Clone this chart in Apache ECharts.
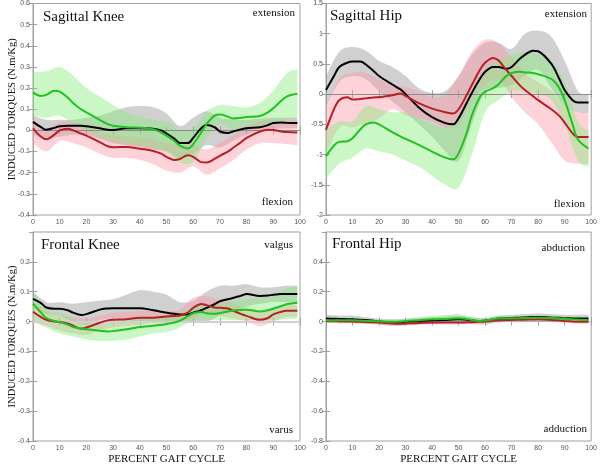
<!DOCTYPE html>
<html>
<head>
<meta charset="utf-8">
<title>Induced torques</title>
<script src="https://cdn.jsdelivr.net/npm/echarts@6/dist/echarts.min.js"></script>
<style>
    html, body { margin: 0; padding: 0; background: #fff; }
    #chart { width: 600px; height: 466px; }
</style>
</head>
<body>
<div id="chart"></div>
<script>
// gait cycle positions (%) for the mean curves and for the +/- SD bands
var lineX = [0, 3, 5, 8, 10, 13, 15, 18, 20, 25, 28, 30, 35, 40, 45, 48, 50, 53, 55, 58, 60, 63, 65, 68, 70, 73, 75, 78, 80, 85, 88, 90, 93, 95, 99];
var bandX = [0, 5, 10, 15, 20, 25, 30, 35, 40, 45, 50, 55, 60, 65, 70, 75, 80, 85, 90, 95, 99];

var xTicks = { min: 0, max: 100, interval: 10 };

/* Sagittal Knee */
var sagKneeBlack = [0.04, 0.015, 0.003, 0.012, 0.02, 0.022, 0.022, 0.022, 0.02, 0.01, 0.003, 0.002, 0.01, 0.01, 0.008, 0.0, -0.015, -0.04, -0.06, -0.06, -0.035, 0.01, 0.025, 0.015, -0.005, -0.012, -0.005, 0.005, 0.01, 0.015, 0.025, 0.035, 0.037, 0.036, 0.035];
var sagKneeRed = [0.01, -0.03, -0.042, -0.02, 0.0, 0.008, 0.0, -0.015, -0.025, -0.055, -0.075, -0.08, -0.078, -0.087, -0.097, -0.11, -0.125, -0.14, -0.135, -0.118, -0.125, -0.15, -0.152, -0.135, -0.12, -0.1, -0.082, -0.055, -0.035, -0.005, 0.003, 0.002, -0.005, -0.008, -0.01];
var sagKneeGreen = [0.18, 0.163, 0.168, 0.188, 0.183, 0.155, 0.13, 0.1, 0.085, 0.05, 0.03, 0.022, 0.015, 0.013, 0.005, -0.01, -0.025, -0.05, -0.072, -0.085, -0.065, -0.01, 0.03, 0.07, 0.075, 0.065, 0.056, 0.06, 0.063, 0.068, 0.085, 0.105, 0.14, 0.16, 0.173];
var sagKneeGrayUp = [0.07, 0.05, 0.05, 0.05, 0.06, 0.07, 0.09, 0.11, 0.115, 0.11, 0.08, 0.02, 0.06, 0.09, 0.06, 0.05, 0.05, 0.055, 0.06, 0.06, 0.06];
var sagKneeGrayLo = [-0.02, -0.04, -0.03, -0.02, -0.02, -0.04, -0.06, -0.07, -0.08, -0.09, -0.1, -0.13, -0.11, -0.07, -0.08, -0.05, -0.02, 0.0, 0.01, 0.01, 0.01];
var sagKneePinkUp = [0.05, 0.01, 0.04, 0.04, 0.02, -0.01, -0.02, -0.03, -0.03, -0.04, -0.06, -0.07, -0.07, -0.09, -0.06, -0.02, 0.02, 0.045, 0.05, 0.05, 0.05];
var sagKneePinkLo = [-0.06, -0.1, -0.05, -0.06, -0.08, -0.11, -0.13, -0.13, -0.14, -0.16, -0.19, -0.2, -0.17, -0.21, -0.18, -0.14, -0.09, -0.06, -0.06, -0.065, -0.07];
var sagKneeLimeUp = [0.275, 0.28, 0.3, 0.26, 0.2, 0.16, 0.12, 0.085, 0.065, 0.05, 0.04, 0.0, 0.01, 0.09, 0.12, 0.115, 0.11, 0.13, 0.19, 0.27, 0.29];
var sagKneeLimeLo = [0.07, 0.06, 0.07, 0.03, 0.0, -0.03, -0.05, -0.06, -0.07, -0.08, -0.1, -0.15, -0.15, -0.04, 0.03, 0.0, 0.02, 0.02, 0.03, 0.05, 0.06];

/* Sagittal Hip */
var sagHipBlack = [0.07, 0.3, 0.45, 0.52, 0.54, 0.54, 0.49, 0.38, 0.3, 0.16, 0.08, 0.0, -0.22, -0.38, -0.48, -0.5, -0.4, -0.15, 0.02, 0.25, 0.37, 0.45, 0.45, 0.42, 0.45, 0.58, 0.65, 0.72, 0.71, 0.5, 0.25, 0.07, -0.1, -0.14, -0.14];
var sagHipRed = [-0.59, -0.25, -0.1, -0.05, -0.09, -0.08, -0.07, -0.055, -0.05, -0.02, 0.01, -0.03, -0.15, -0.24, -0.3, -0.32, -0.25, -0.02, 0.15, 0.4, 0.52, 0.6, 0.56, 0.4, 0.3, 0.15, 0.07, -0.03, -0.1, -0.25, -0.36, -0.47, -0.65, -0.71, -0.71];
var sagHipGreen = [-1.03, -0.85, -0.79, -0.78, -0.73, -0.58, -0.5, -0.47, -0.5, -0.63, -0.7, -0.74, -0.84, -0.95, -1.05, -1.08, -0.98, -0.65, -0.35, -0.05, 0.04, 0.1, 0.16, 0.3, 0.35, 0.37, 0.36, 0.35, 0.33, 0.25, 0.1, -0.1, -0.5, -0.75, -0.9];
var sagHipGrayUp = [0.3, 0.7, 0.78, 0.72, 0.55, 0.45, 0.3, 0.1, 0.02, 0.05, 0.3, 0.65, 0.85, 0.85, 0.75, 1.0, 1.05, 0.95, 0.55, 0.05, 0.0];
var sagHipGrayLo = [-0.2, 0.2, 0.3, 0.25, 0.05, -0.12, -0.3, -0.5, -0.7, -0.95, -1.1, -0.5, 0.05, 0.1, 0.15, 0.3, 0.4, 0.1, -0.2, -0.3, -0.3];
var sagHipPinkUp = [-0.2, 0.25, 0.35, 0.35, 0.25, 0.15, 0.12, 0.05, -0.05, 0.0, 0.3, 0.7, 0.9, 0.85, 0.6, 0.35, 0.2, 0.05, -0.2, -0.3, -0.28];
var sagHipPinkLo = [-1.0, -0.55, -0.55, -0.48, -0.4, -0.25, -0.35, -0.4, -0.45, -0.55, -0.5, -0.1, 0.15, 0.25, -0.05, -0.3, -0.5, -0.8, -1.1, -1.15, -1.15];
var sagHipLimeUp = [-0.6, -0.45, -0.45, -0.2, -0.25, -0.3, -0.3, -0.4, -0.5, -0.55, -0.4, 0.0, 0.4, 0.55, 0.65, 0.7, 0.65, 0.55, 0.2, -0.45, -0.6];
var sagHipLimeLo = [-1.4, -1.15, -1.05, -0.9, -0.95, -1.0, -1.1, -1.2, -1.35, -1.5, -1.55, -1.0, -0.3, -0.1, 0.05, 0.05, 0.0, -0.1, -0.5, -1.1, -1.2];

/* Frontal Knee */
var froKneeBlack = [0.076, 0.062, 0.047, 0.043, 0.043, 0.038, 0.03, 0.022, 0.025, 0.04, 0.044, 0.045, 0.045, 0.045, 0.038, 0.033, 0.03, 0.026, 0.024, 0.024, 0.03, 0.038, 0.046, 0.058, 0.068, 0.075, 0.079, 0.087, 0.092, 0.086, 0.087, 0.09, 0.092, 0.092, 0.092];
var froKneeRed = [0.033, 0.015, 0.006, 0.0, -0.001, -0.006, -0.014, -0.024, -0.02, -0.004, 0.004, 0.006, 0.008, 0.013, 0.013, 0.015, 0.017, 0.019, 0.02, 0.03, 0.046, 0.059, 0.055, 0.047, 0.046, 0.044, 0.036, 0.025, 0.019, 0.006, 0.012, 0.024, 0.033, 0.036, 0.036];
var froKneeGreen = [0.06, 0.03, 0.012, 0.002, -0.002, -0.01, -0.018, -0.023, -0.026, -0.031, -0.033, -0.032, -0.026, -0.018, -0.014, -0.011, -0.008, -0.003, 0.003, 0.018, 0.028, 0.032, 0.028, 0.026, 0.029, 0.034, 0.037, 0.039, 0.04, 0.034, 0.038, 0.043, 0.052, 0.058, 0.063];
var froKneeGrayUp = [0.1, 0.065, 0.065, 0.06, 0.065, 0.07, 0.075, 0.09, 0.105, 0.1, 0.09, 0.065, 0.07, 0.1, 0.12, 0.12, 0.125, 0.115, 0.115, 0.12, 0.12];
var froKneeGrayLo = [0.045, 0.025, 0.02, 0.0, -0.01, 0.005, 0.01, 0.005, 0.0, 0.0, 0.0, 0.0, 0.0, 0.0, 0.02, 0.035, 0.05, 0.06, 0.065, 0.065, 0.065];
var froKneePinkUp = [0.06, 0.03, 0.02, 0.015, 0.01, 0.02, 0.03, 0.033, 0.035, 0.035, 0.035, 0.04, 0.08, 0.085, 0.07, 0.06, 0.045, 0.03, 0.05, 0.055, 0.055];
var froKneePinkLo = [0.0, -0.015, -0.03, -0.04, -0.045, -0.03, -0.02, -0.015, -0.01, -0.005, 0.0, 0.0, 0.01, 0.03, 0.02, 0.01, 0.0, -0.015, 0.0, 0.015, 0.015];
var froKneeLimeUp = [0.1, 0.04, 0.03, 0.01, 0.0, 0.0, 0.005, 0.008, 0.01, 0.015, 0.02, 0.03, 0.05, 0.055, 0.06, 0.07, 0.075, 0.08, 0.09, 0.11, 0.12];
var froKneeLimeLo = [0.0, -0.02, -0.04, -0.05, -0.06, -0.065, -0.065, -0.06, -0.05, -0.04, -0.035, -0.02, 0.005, 0.005, 0.005, 0.005, 0.005, 0.005, 0.005, 0.008, 0.01];

/* Frontal Hip */
var froHipBlack = [0.02, 0.019, 0.018, 0.016, 0.015, 0.013, 0.01, 0.005, 0.0, -0.006, -0.005, -0.002, 0.003, 0.007, 0.011, 0.014, 0.015, 0.012, 0.009, 0.003, 0.006, 0.014, 0.02, 0.023, 0.024, 0.026, 0.028, 0.03, 0.031, 0.027, 0.025, 0.023, 0.021, 0.02, 0.02];
var froHipRed = [0.002, 0.002, 0.001, 0.0, 0.0, -0.002, -0.003, -0.005, -0.007, -0.013, -0.015, -0.013, -0.009, -0.007, -0.007, -0.007, -0.007, -0.005, -0.004, -0.002, 0.0, 0.005, 0.007, 0.01, 0.011, 0.012, 0.013, 0.014, 0.015, 0.011, 0.007, 0.004, 0.0, -0.002, -0.002];
var froHipGreen = [0.007, 0.008, 0.009, 0.009, 0.009, 0.007, 0.005, 0.003, 0.002, -0.002, 0.0, 0.004, 0.009, 0.015, 0.018, 0.021, 0.022, 0.017, 0.011, 0.004, 0.007, 0.015, 0.022, 0.022, 0.022, 0.023, 0.024, 0.025, 0.026, 0.024, 0.022, 0.02, 0.016, 0.014, 0.011];
var froHipGrayUp = [0.045, 0.04, 0.04, 0.03, 0.02, 0.015, 0.02, 0.025, 0.03, 0.035, 0.04, 0.03, 0.025, 0.04, 0.045, 0.05, 0.055, 0.05, 0.045, 0.045, 0.045];
var froHipGrayLo = [-0.005, -0.005, -0.01, -0.015, -0.02, -0.03, -0.025, -0.02, -0.015, -0.01, -0.01, -0.015, -0.02, -0.005, 0.0, 0.005, 0.005, 0.0, 0.0, -0.005, -0.005];
var froHipPinkUp = [0.014, 0.013, 0.012, 0.009, 0.005, -0.001, -0.001, 0.003, 0.005, 0.005, 0.005, 0.008, 0.012, 0.019, 0.023, 0.025, 0.027, 0.023, 0.016, 0.01, 0.01];
var froHipPinkLo = [-0.01, -0.011, -0.012, -0.015, -0.019, -0.025, -0.025, -0.021, -0.019, -0.019, -0.019, -0.016, -0.012, -0.005, -0.001, 0.001, 0.003, -0.001, -0.008, -0.014, -0.014];
var froHipLimeUp = [0.02, 0.02, 0.02, 0.017, 0.014, 0.012, 0.018, 0.028, 0.038, 0.045, 0.05, 0.03, 0.018, 0.035, 0.035, 0.037, 0.038, 0.036, 0.032, 0.026, 0.022];
var froHipLimeLo = [-0.005, -0.003, -0.003, -0.007, -0.01, -0.014, -0.008, -0.003, 0.0, 0.002, 0.002, -0.002, -0.005, 0.008, 0.009, 0.01, 0.012, 0.01, 0.007, 0.002, 0.0];

var serif = "'Liberation Serif', 'Times New Roman', serif";
var sans = "'Liberation Sans', Arial, sans-serif";

var colBlack = '#000000', colRed = '#b52025', colGreen = '#1fc21f';
var bandGray = 'rgba(150,150,150,0.45)', bandPink = 'rgba(250,150,165,0.42)', bandLime = 'rgba(130,235,120,0.42)';

var zip = function(xs, ys) {
    return xs.map((x, i) => [x, ys[i]]);
};

// catmull-rom through pixel points, so the band edges look like the smoothed curves
var spline = function(pts, steps) {
    var out = [];
    for (var i = 0; i < pts.length - 1; i++) {
        var p0 = pts[Math.max(i - 1, 0)], p1 = pts[i], p2 = pts[i + 1], p3 = pts[Math.min(i + 2, pts.length - 1)];
        for (var s = 0; s < steps; s++) {
            var t = s / steps, t2 = t * t, t3 = t2 * t;
            out.push([0, 1].map(k => 0.5 * ((2 * p1[k]) + (-p0[k] + p2[k]) * t +
                (2 * p0[k] - 5 * p1[k] + 4 * p2[k] - p3[k]) * t2 +
                (-p0[k] + 3 * p1[k] - 3 * p2[k] + p3[k]) * t3)));
        }
    }
    out.push(pts[pts.length - 1]);
    return out;
};

// SD band: one polygon built from the lower / upper arrays through the axis scales
var band = function(gi, lo, up, color) {
    return {
        type: 'custom', xAxisIndex: gi, yAxisIndex: gi, silent: true, z: 1,
        data: bandX.map((x, i) => [x, lo[i], up[i]]),
        encode: { x: 0, y: [1, 2] },
        renderItem: function(params, api) {
            if (params.dataIndex !== 0) return;
            var n = bandX.length, top = [], bottom = [];
            for (var i = 0; i < n; i++) {
                var x = api.value(0, i);
                top.push(api.coord([x, api.value(2, i)]));
                bottom.push(api.coord([x, api.value(1, i)]));
            }
            var poly = spline(top, 8).concat(spline(bottom, 8).reverse());
            return {
                type: 'polygon',
                shape: { points: poly },
                style: { fill: color }
            };
        }
    };
};

var curve = function(gi, ys, color, zero) {
    var s = {
        type: 'line', xAxisIndex: gi, yAxisIndex: gi, data: zip(lineX, ys),
        smooth: 0.35, symbol: 'none', silent: true, z: 3,
        lineStyle: { color: color, width: 2 }
    };
    if (zero) {
        s.markLine = {
            silent: true, symbol: 'none', label: { show: false }, z: 2,
            lineStyle: zero, data: [{ yAxis: 0 }]
        };
    }
    return s;
};

var panels = [
    { left: 33, top: 3, h: 212, min: -0.4, max: 0.6, step: 0.1, yName: true, xName: false, hideTop: false,
      black: sagKneeBlack, red: sagKneeRed, green: sagKneeGreen,
      gray: [sagKneeGrayLo, sagKneeGrayUp], pink: [sagKneePinkLo, sagKneePinkUp], lime: [sagKneeLimeLo, sagKneeLimeUp],
      zero: { color: '#8c8c8c', width: 1, type: 'solid' } },
    { left: 326, top: 3, h: 212, min: -2, max: 1.5, step: 0.5, yName: false, xName: false, hideTop: false,
      black: sagHipBlack, red: sagHipRed, green: sagHipGreen,
      gray: [sagHipGrayLo, sagHipGrayUp], pink: [sagHipPinkLo, sagHipPinkUp], lime: [sagHipLimeLo, sagHipLimeUp],
      zero: { color: '#8c8c8c', width: 1, type: 'solid' } },
    { left: 33, top: 232, h: 211, min: -0.4, max: 0.3, step: 0.1, yName: true, xName: true, hideTop: true,
      black: froKneeBlack, red: froKneeRed, green: froKneeGreen,
      gray: [froKneeGrayLo, froKneeGrayUp], pink: [froKneePinkLo, froKneePinkUp], lime: [froKneeLimeLo, froKneeLimeUp],
      zero: { color: '#d0d0d0', width: 2, type: 'solid' } },
    { left: 326, top: 232, h: 211, min: -0.8, max: 0.6, step: 0.2, yName: false, xName: true, hideTop: true,
      black: froHipBlack, red: froHipRed, green: froHipGreen,
      gray: [froHipGrayLo, froHipGrayUp], pink: [froHipPinkLo, froHipPinkUp], lime: [froHipLimeLo, froHipLimeUp],
      zero: { color: '#b0b0b0', width: 1, type: 'solid' } }
];

var axisGray = '#a0a0a0';
var grids = [], xAxes = [], yAxes = [], series = [];

panels.forEach((p, gi) => {
    grids.push({ left: p.left, top: p.top, width: 267, height: p.h, show: true, borderColor: axisGray, borderWidth: 1 });

    xAxes.push({
        type: 'value', gridIndex: gi, min: xTicks.min, max: xTicks.max, interval: xTicks.interval,
        position: 'bottom',
        axisLine: { lineStyle: { color: axisGray } },
        axisTick: { inside: true, length: 4, lineStyle: { color: axisGray } },
        axisLabel: { fontSize: 7, color: '#555', margin: 4, fontFamily: sans },
        splitLine: { show: false },
        name: p.xName ? 'PERCENT GAIT CYCLE' : '', nameLocation: 'middle', nameGap: 13,
        nameTextStyle: { fontFamily: serif, fontSize: 11, color: '#111' }
    });
    yAxes.push({
        type: 'value', gridIndex: gi, min: p.min, max: p.max, interval: p.step,
        position: 'left',
        axisLine: { lineStyle: { color: axisGray } },
        axisTick: { inside: true, length: 4, lineStyle: { color: axisGray } },
        axisLabel: { fontSize: 7, color: '#555', margin: 3, fontFamily: sans, showMaxLabel: !p.hideTop },
        splitLine: { show: false },
        name: p.yName ? 'INDUCED TORQUES (N.m/Kg)' : '', nameLocation: 'middle', nameGap: 15, nameRotate: 90,
        nameMoveOverlap: false,
        nameTextStyle: { fontFamily: serif, fontSize: 10.5, color: '#111' }
    });

    series.push(band(gi, p.gray[0], p.gray[1], bandGray));
    series.push(band(gi, p.pink[0], p.pink[1], bandPink));
    series.push(band(gi, p.lime[0], p.lime[1], bandLime));
    series.push(curve(gi, p.black, colBlack, p.zero));
    series.push(curve(gi, p.red, colRed));
    series.push(curve(gi, p.green, colGreen));
});

// mirrored ticks on the top and right borders (box style)
panels.forEach((p, gi) => {
    xAxes.push({
        type: 'value', gridIndex: gi, min: xTicks.min, max: xTicks.max, interval: xTicks.interval,
        position: 'top', axisLine: { show: false },
        axisTick: { inside: true, length: 4, lineStyle: { color: axisGray } },
        axisLabel: { show: false }, splitLine: { show: false }
    });
    yAxes.push({
        type: 'value', gridIndex: gi, min: p.min, max: p.max, interval: p.step,
        position: 'right', axisLine: { show: false },
        axisTick: { inside: true, length: 4, lineStyle: { color: axisGray } },
        axisLabel: { show: false }, splitLine: { show: false }
    });
});

var big = { fontFamily: serif, fontSize: 15, fontWeight: 'normal', color: '#111' };
var small = { fontFamily: serif, fontSize: 11, fontWeight: 'normal', color: '#111' };

var labels = [
    { text: 'Sagittal Knee', left: 43, top: 10, padding: 0, textStyle: big },
    { text: 'extension', right: 305, top: 8, padding: 0, textStyle: small },
    { text: 'flexion', right: 307, top: 197, padding: 0, textStyle: small },
    { text: 'Sagittal Hip', left: 330, top: 9, padding: 0, textStyle: big },
    { text: 'extension', right: 13, top: 9, padding: 0, textStyle: small },
    { text: 'flexion', right: 15, top: 199, padding: 0, textStyle: small },
    { text: 'Frontal Knee', left: 41, top: 238, padding: 0, textStyle: big },
    { text: 'valgus', right: 307, top: 240, padding: 0, textStyle: small },
    { text: 'varus', right: 307, top: 425, padding: 0, textStyle: small },
    { text: 'Frontal Hip', left: 332, top: 237, padding: 0, textStyle: big },
    { text: 'abduction', right: 15, top: 243, padding: 0, textStyle: small },
    { text: 'adduction', right: 13, top: 424, padding: 0, textStyle: small }
];

var chart = echarts.init(document.getElementById('chart'), null, { renderer: 'canvas' });
chart.setOption({
    backgroundColor: '#ffffff',
    animation: false,
    title: labels,
    grid: grids,
    xAxis: xAxes,
    yAxis: yAxes,
    series: series
});
</script>
</body>
</html>
